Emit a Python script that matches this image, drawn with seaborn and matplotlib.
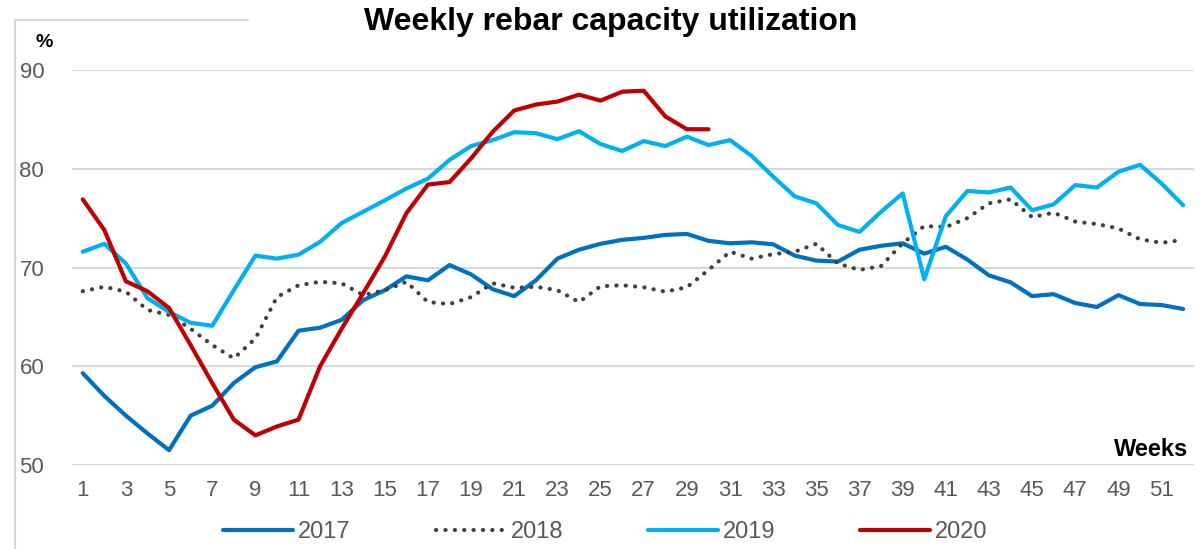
import numpy as np
import pandas as pd
import matplotlib
matplotlib.use("Agg")
import matplotlib.pyplot as plt
import seaborn as sns
from matplotlib.lines import Line2D

weeks = list(range(1, 53))

y2017 = [59.3, 57.0, 55.0, 53.2, 51.5, 55.0, 56.0, 58.3, 59.9, 60.5,
         63.6, 63.9, 64.7, 66.7, 67.7, 69.1, 68.7, 70.25, 69.3, 67.8,
         67.1, 68.7, 70.9, 71.8, 72.4, 72.8, 73.0, 73.3, 73.4, 72.7,
         72.45, 72.55, 72.35, 71.2, 70.7, 70.6, 71.8, 72.2, 72.45, 71.4,
         72.1, 70.8, 69.2, 68.5, 67.1, 67.3, 66.4, 66.0, 67.2, 66.3,
         66.2, 65.8]

y2018 = [67.6, 68.05, 67.55, 65.7, 65.2, 63.8, 62.15, 60.8, 62.8, 67.0,
         68.2, 68.55, 68.4, 67.2, 67.7, 68.55, 66.5, 66.3, 67.0, 68.4,
         67.95, 68.05, 67.7, 66.5, 68.1, 68.2, 68.0, 67.55, 68.0, 69.75,
         71.6, 70.9, 71.35, 71.6, 72.4, 70.4, 69.75, 70.15, 72.45, 74.2,
         74.1, 75.0, 76.5, 76.9, 75.1, 75.55, 74.65, 74.4, 73.95, 72.85,
         72.5, 72.8]

y2019 = [71.6, 72.4, 70.4, 66.9, 65.5, 64.4, 64.1, 67.7, 71.2, 70.9,
         71.3, 72.6, 74.5, 75.65, 76.8, 78.0, 79.0, 80.9, 82.3, 82.9,
         83.7, 83.6, 83.0, 83.8, 82.5, 81.8, 82.8, 82.3, 83.25, 82.4,
         82.9, 81.3, 79.2, 77.2, 76.5, 74.3, 73.6, 75.65, 77.5, 68.8,
         75.2, 77.75, 77.6, 78.1, 75.8, 76.4, 78.35, 78.1, 79.7, 80.4,
         78.5, 76.3]

y2020 = [76.9, 73.8, 68.6, 67.6, 65.9, 62.15, 58.3, 54.6, 53.0, 53.9,
         54.6, 60.0, 63.8, 67.4, 71.1, 75.5, 78.4, 78.65, 81.05, 83.75,
         85.9, 86.5, 86.8, 87.5, 86.9, 87.8, 87.9, 85.3, 84.0, 84.0]

series_names = ["2017", "2018", "2019", "2020"]
series_values = [y2017, y2018, y2019, y2020]
yticks = [50, 60, 70, 80, 90]
xticks = list(range(1, 53, 2))

colors = {"2017": "#0070C0", "2018": "#404040", "2019": "#00B0F0", "2020": "#C00000"}

sns.set_theme(style="white")
plt.rcParams['font.family'] = ['Liberation Sans', 'DejaVu Sans']

fig = plt.figure(figsize=(11.99, 5.49), dpi=100)
ax = fig.add_axes([0.0600, 0.153, 0.9358, 0.7195])

for name, vals in zip(series_names, series_values):
    df = pd.DataFrame({"week": weeks[:len(vals)], "value": vals})
    if name == "2018":
        sns.lineplot(data=df, x="week", y="value", ax=ax, color=colors[name],
                     lw=3.0, linestyle=(0, (0.05, 2.2)),
                     dash_capstyle="round", label=name, legend=False)
    else:
        sns.lineplot(data=df, x="week", y="value", ax=ax, color=colors[name],
                     lw=3.0, solid_capstyle="round", label=name, legend=False)

ax.set_xlim(0.5, 52.5)
ax.set_ylim(50, 90)
ax.set_yticks(yticks)
ax.set_xticks(xticks)
ax.set_xticklabels([str(t) for t in xticks])
ax.set_xlabel("")
ax.set_ylabel("")
for s in ax.spines.values():
    s.set_visible(False)
ax.grid(axis="y", color="#D9D9D9", lw=1.5)
ax.grid(axis="x", visible=False)
ax.set_axisbelow(True)
ax.tick_params(axis="both", length=0, labelsize=16, labelcolor="#595959")
ax.tick_params(axis="x", pad=11)
ax.tick_params(axis="y", pad=20)

fig.text(0.509, 0.960, "Weekly rebar capacity utilization", ha="center", va="center",
         fontsize=23, fontweight="bold", color="black")
fig.text(0.037, 0.923, "%", ha="center", va="center", fontsize=14,
         fontweight="bold", color="black")
fig.text(0.991, 0.182, "Weeks", ha="right", va="center", fontsize=17,
         fontweight="bold", color="black")

# watermark frame lines
fig.add_artist(Line2D([15/1199, 15/1199], [0, 1 - 20/549], color="#D9D9D9", lw=1.5))
fig.add_artist(Line2D([15/1199, 248/1199], [1 - 20/549, 1 - 20/549], color="#D9D9D9", lw=1.5))

handles = [
    Line2D([], [], color=colors["2017"], lw=3.0, solid_capstyle="round"),
    Line2D([], [], color=colors["2018"], lw=3.0, linestyle=(0, (0.05, 2.2)), dash_capstyle="round"),
    Line2D([], [], color=colors["2019"], lw=3.0, solid_capstyle="round"),
    Line2D([], [], color=colors["2020"], lw=3.0, solid_capstyle="round"),
]
leg = fig.legend(handles, series_names, loc="center", bbox_to_anchor=(0.505, 0.031),
                 ncol=4, frameon=False, fontsize=17, handlelength=2.95,
                 handletextpad=0.22, columnspacing=3.6)
for t in leg.get_texts():
    t.set_color("#595959")

fig.savefig("out.png", dpi=100)
